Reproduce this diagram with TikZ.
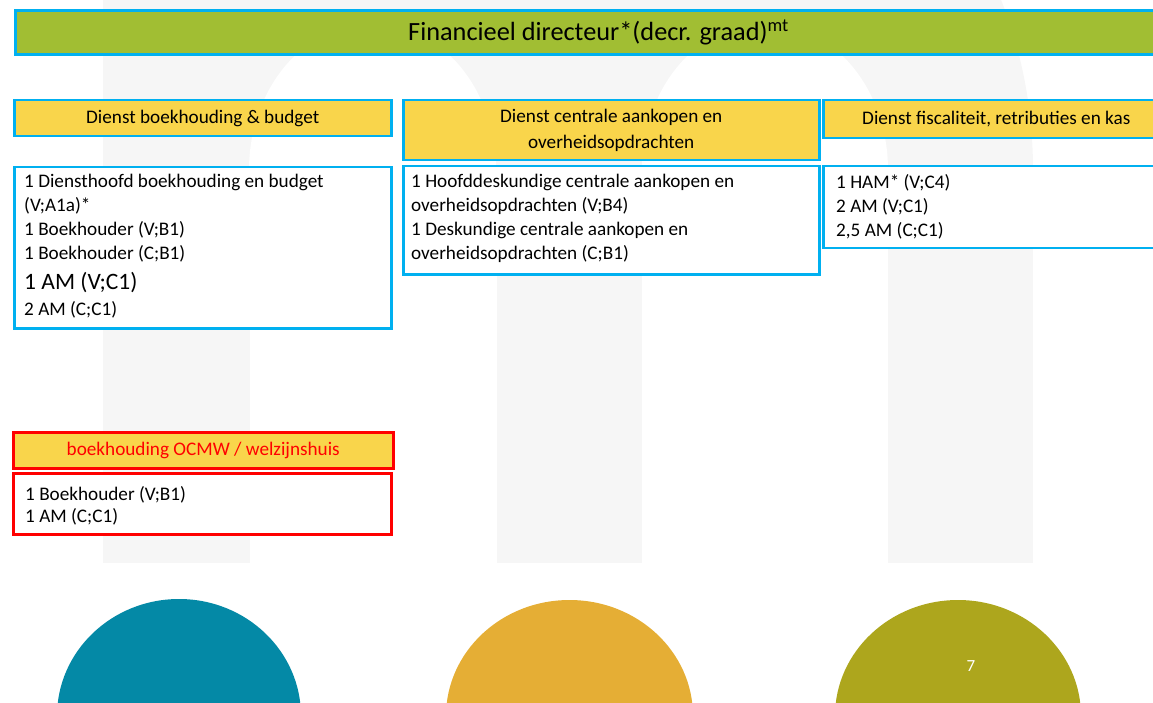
\documentclass[tikz,border=0pt]{standalone}
\usepackage{fontspec}
\setmainfont{Carlito}
\definecolor{cyanb}{RGB}{0,176,240}
\definecolor{titlegreen}{RGB}{161,190,51}
\definecolor{hyellow}{RGB}{249,213,75}
\definecolor{mgray}{RGB}{246,246,246}
\definecolor{cteal}{RGB}{4,137,166}
\definecolor{corange}{RGB}{229,174,53}
\definecolor{colive}{RGB}{173,166,29}
\begin{document}
\begin{tikzpicture}[x=1pt,y=-1pt,
  hdr/.style={draw=cyanb, line width=2.5pt, fill=hyellow, inner sep=0pt, anchor=north west,
    font=\fontsize{19.2}{26}\selectfont, align=center},
  bodybox/.style={draw=cyanb, line width=2.5pt, fill=white, inner sep=0pt, anchor=north west},
  txt/.style={inner sep=0pt, anchor=north west, align=left, font=\fontsize{19.2}{24}\selectfont},
  redbox/.style={draw=red}]
\useasboundingbox (0,0) rectangle (1153,703);
\clip (0,0) rectangle (1153,703);
% background watermark "m"
\fill[mgray] (103,-60) rectangle (250,563);
\fill[mgray] (497,-60) rectangle (642,563);
\fill[mgray] (888,170) rectangle (1033,563);
\fill[mgray] (103,-60) rectangle (765,170);
\fill[mgray] (765,170) ellipse [x radius=268pt, y radius=359pt];
\fill[white] (372.5,170) ellipse [x radius=123.5pt, y radius=147pt];
\fill[white] (250,170) rectangle (497,600);
\fill[white] (765,170) ellipse [x radius=123pt, y radius=147pt];
\fill[white] (642,170) rectangle (888,600);
% bottom circles
\fill[cteal] (179,716) ellipse [x radius=122pt, y radius=117pt];
\fill[corange] (569.5,716) ellipse [x radius=123.5pt, y radius=116pt];
\fill[colive] (958,716) ellipse [x radius=123pt, y radius=116pt];
\node[text=white, font=\fontsize{17}{20}\selectfont, inner sep=0pt] (pnum) at (971,666) {7};
% title
\node[draw=cyanb, line width=3pt, fill=titlegreen, inner sep=0pt, anchor=north west,
  minimum width=1166pt, minimum height=44pt, font=\fontsize{26.3}{30}\selectfont] (title) at (14,9)
  {\raisebox{-1pt}{Financieel directeur*(decr. graad)\textsuperscript{mt}}};
% headers
\node[hdr, minimum width=377pt, minimum height=36pt] (h1) at (13,99) {Dienst boekhouding \& budget};
\node[hdr, minimum width=416pt, minimum height=60pt] (h2) at (402,99) {Dienst centrale aankopen en\\overheidsopdrachten};
\node[hdr, minimum width=346pt, minimum height=38pt] (h3) at (822,99) {Dienst fiscaliteit, retributies en kas};
\node[hdr, redbox, text=red, minimum width=380pt, minimum height=36pt] (h4) at (12,431) {boekhouding OCMW / welzijnshuis};
% bodies
\node[bodybox, minimum width=377pt, minimum height=161pt] (b1) at (13,166) {};
\node[bodybox, minimum width=416pt, minimum height=108pt] (b2) at (402,165) {};
\node[bodybox, minimum width=346pt, minimum height=82pt] (b3) at (822,165) {};
\node[bodybox, redbox, minimum width=378pt, minimum height=61pt] (b4) at (12,472) {};
\node[txt] (t1) at (24,174) {1 Diensthoofd boekhouding en budget\\(V;A1a)*\\1 Boekhouder (V;B1)\\1 Boekhouder (C;B1)\\[6pt]{\fontsize{23.5}{28}\selectfont 1 AM (V;C1)}\\[2pt]2 AM (C;C1)};
\node[txt] (t2) at (411,174) {1 Hoofddeskundige centrale aankopen en\\overheidsopdrachten (V;B4)\\1 Deskundige centrale aankopen en\\overheidsopdrachten (C;B1)};
\node[txt] (t3) at (836,174) {1 HAM* (V;C4)\\2 AM (V;C1)\\2,5 AM (C;C1)};
\node[txt, font=\fontsize{19.2}{22}\selectfont] (t4) at (25,486) {1 Boekhouder (V;B1)\\1 AM (C;C1)};
\end{tikzpicture}
\end{document}
